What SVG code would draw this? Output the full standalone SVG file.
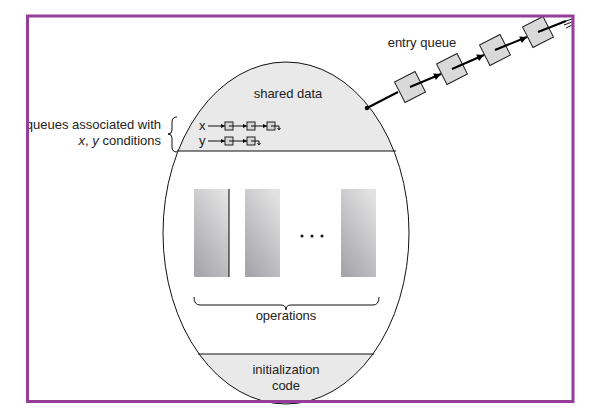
<svg xmlns="http://www.w3.org/2000/svg" width="605" height="420" viewBox="0 0 605 420">
<style>
text{font-family:"Liberation Sans",Arial,sans-serif;fill:#222;font-size:13px}
.ln{stroke:#111;fill:none;stroke-width:1}
.thk{stroke:#000;fill:none;stroke-width:2}
.qbox{fill:#d9d9d9;stroke:#222;stroke-width:1}
.sbox{fill:#d6d6d6;stroke:#222;stroke-width:1}
.op{fill:url(#g)}
</style>
<defs>
<linearGradient id="g" x1="0.8" y1="0" x2="0.2" y2="1">
<stop offset="0" stop-color="#e2e2e2"/>
<stop offset="1" stop-color="#a6a6ac"/>
</linearGradient>
<clipPath id="ec"><ellipse cx="286" cy="233" rx="123" ry="171"/></clipPath>
<marker id="ah" viewBox="0 0 10 10" refX="10" refY="5" markerWidth="9" markerHeight="7" markerUnits="userSpaceOnUse" orient="auto">
<path d="M0,0 L10,5 L0,10 z" fill="#000"/>
</marker>
<marker id="sa" viewBox="0 0 10 10" refX="10" refY="5" markerWidth="5" markerHeight="4" markerUnits="userSpaceOnUse" orient="auto">
<path d="M0,0 L10,5 L0,10 z" fill="#000"/>
</marker>
</defs>
<rect width="605" height="420" fill="#fff"/>

<g id="monitor">
<g clip-path="url(#ec)">
<rect x="150" y="55" width="280" height="96" fill="#e9e9e9"/>
<rect x="150" y="354" width="280" height="60" fill="#e9e9e9"/>
</g>
<ellipse cx="286" cy="233" rx="123" ry="171" class="ln"/>
<line x1="177" y1="151" x2="396" y2="151" class="ln"/>
<line x1="198" y1="354" x2="374" y2="354" class="ln"/>
</g>

<g id="shared-data">
<text x="288" y="98" text-anchor="middle">shared data</text>
</g>

<g id="condition-queues">
<text x="199" y="130" font-size="12">x</text>
<text x="199" y="145" font-size="12">y</text>
<rect x="225" y="122" width="8" height="8" class="sbox"/>
<rect x="247" y="122" width="8" height="8" class="sbox"/>
<rect x="267" y="122" width="8" height="8" class="sbox"/>
<rect x="225" y="137" width="8" height="8" class="sbox"/>
<rect x="247" y="137" width="8" height="8" class="sbox"/>
</g>

<g id="queue-label">
<text x="161" y="129" text-anchor="end">queues associated with</text>
<text x="161" y="145" text-anchor="end"><tspan font-style="italic">x</tspan>, <tspan font-style="italic">y</tspan> conditions</text>
<path d="M177,117 Q172,117 172,122 L172,130 Q172,134 168,134 Q172,134 172,138 L172,147 Q172,152 177,152" class="ln"/>
</g>

<g id="operations">
<rect x="194" y="189" width="35" height="88" class="op"/>
<line x1="229" y1="189" x2="229" y2="277" stroke="#000" stroke-width="1"/>
<rect x="245" y="189" width="35" height="88" class="op"/>
<rect x="341" y="189" width="35" height="88" class="op"/>
<circle cx="302" cy="236" r="1.5" fill="#111"/>
<circle cx="312" cy="236" r="1.5" fill="#111"/>
<circle cx="322" cy="236" r="1.5" fill="#111"/>
<path d="M194,297 Q194,305 200,305 L281,305 Q286,305 286,310 Q286,305 291,305 L373,305 Q379,305 379,297" class="ln"/>
<text x="286" y="320" text-anchor="middle">operations</text>
</g>

<g id="initialization-code">
<text x="286" y="374" text-anchor="middle">initialization</text>
<text x="286" y="390" text-anchor="middle">code</text>
</g>

<g id="entry-queue">
<text x="422" y="47" text-anchor="middle">entry queue</text>
<rect x="-11.5" y="-11.5" width="23" height="23" class="qbox" transform="translate(410,87) rotate(-27)"/>
<rect x="-11.5" y="-11.5" width="23" height="23" class="qbox" transform="translate(452,69) rotate(-27)"/>
<rect x="-11.5" y="-11.5" width="23" height="23" class="qbox" transform="translate(495,50) rotate(-27)"/>
<rect x="-11.5" y="-11.5" width="23" height="23" class="qbox" transform="translate(538,32) rotate(-27)"/>
</g>

<g id="connectors">
<line x1="208" y1="126" x2="225" y2="126" class="ln" marker-end="url(#sa)"/>
<line x1="229" y1="126" x2="247" y2="126" class="ln" marker-end="url(#sa)"/>
<line x1="251" y1="126" x2="267" y2="126" class="ln" marker-end="url(#sa)"/>
<path d="M271,126 L279,126 L279,129" class="ln"/>
<path d="M277.5,128 L279,130 L280.5,128" class="ln"/>
<line x1="208" y1="141" x2="225" y2="141" class="ln" marker-end="url(#sa)"/>
<line x1="229" y1="141" x2="247" y2="141" class="ln" marker-end="url(#sa)"/>
<path d="M251,141 L259,141 L259,144" class="ln"/>
<path d="M257.5,143 L259,145 L260.5,143" class="ln"/>

<line x1="367" y1="108" x2="398" y2="92" class="thk"/>
<circle cx="367" cy="108" r="2.2" fill="#000"/>
<line x1="410" y1="87" x2="441" y2="74" class="thk" marker-end="url(#ah)"/>
<line x1="452" y1="69" x2="484" y2="55" class="thk" marker-end="url(#ah)"/>
<line x1="495" y1="50" x2="527" y2="37" class="thk" marker-end="url(#ah)"/>
<line x1="538" y1="32" x2="566" y2="21" class="thk"/>
<path d="M566,21 L572,19 M564,25 L572,22 M566,28 L572,25" class="ln"/>
</g>

<rect x="27.5" y="16" width="545.5" height="385.5" fill="none" stroke="#963c9b" stroke-width="3"/>
</svg>
